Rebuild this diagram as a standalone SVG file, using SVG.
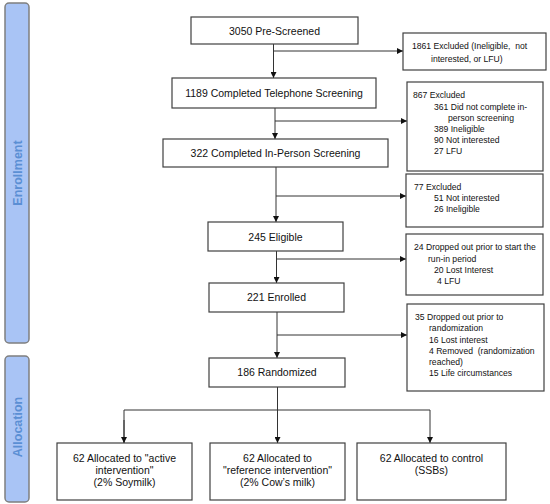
<svg xmlns="http://www.w3.org/2000/svg" width="550" height="504" viewBox="0 0 550 504">
<defs>
<marker id="ah" viewBox="0 0 10 10" refX="10" refY="5" markerWidth="6" markerHeight="6" markerUnits="userSpaceOnUse" orient="auto">
<path d="M0,0 L10,5 L0,10 Z" fill="#111"/>
</marker>
<style>
.box{fill:#fff;stroke:#404040;stroke-width:1.2}
.bar{fill:#a9c4f5;stroke:#7f7f7f;stroke-width:1.5}
.bt{font-family:"Liberation Sans",Arial,sans-serif;font-weight:bold;font-size:12.5px;fill:#5b8fd4;text-anchor:middle}
.m{font-family:"Liberation Sans",Arial,sans-serif;font-size:10.5px;fill:#111;text-anchor:middle}
.s{font-family:"Liberation Sans",Arial,sans-serif;font-size:8.6px;fill:#111;white-space:pre}
.ln{fill:none;stroke:#333;stroke-width:1}
</style>
</defs>
<rect width="550" height="504" fill="#fff"/>
<g id="enrollment-bar">
<rect class="bar" x="5" y="3" width="24" height="340" rx="4"/>
<text class="bt" transform="translate(22,173) rotate(-90)">Enrollment</text>
</g>
<g id="allocation-bar">
<rect class="bar" x="5" y="356" width="24" height="146" rx="4"/>
<text class="bt" transform="translate(22,427) rotate(-90)">Allocation</text>
</g>
<g id="connectors">
<path class="ln" d="M273.5,44 V78" marker-end="url(#ah)"/>
<path class="ln" d="M273.5,51 H403" marker-end="url(#ah)"/>
<path class="ln" d="M275,108 V139" marker-end="url(#ah)"/>
<path class="ln" d="M275,121 H407" marker-end="url(#ah)"/>
<path class="ln" d="M276,167 V222" marker-end="url(#ah)"/>
<path class="ln" d="M276,196 H406" marker-end="url(#ah)"/>
<path class="ln" d="M276.5,251 V283" marker-end="url(#ah)"/>
<path class="ln" d="M276.5,259 H406" marker-end="url(#ah)"/>
<path class="ln" d="M277,312 V358" marker-end="url(#ah)"/>
<path class="ln" d="M277,335 H407" marker-end="url(#ah)"/>
<path class="ln" d="M277.5,387 V443" marker-end="url(#ah)"/>
<path class="ln" d="M124,443 V410 H430 V443" marker-end="url(#ah)"/>
<path class="ln" d="M124,420 V443" marker-end="url(#ah)"/>
</g>
<g id="n3050">
<rect class="box" x="191" y="17" width="167" height="27"/>
<text class="m" x="274.5" y="34.5">3050 Pre-Screened</text>
</g>
<g id="n1861">
<rect class="box" x="403" y="33" width="143" height="37"/>
<text class="s" x="412" y="49">1861 Excluded (Ineligible,  not</text>
<text class="s" x="431" y="62">interested, or LFU)</text>
</g>
<g id="n1189">
<rect class="box" x="172" y="78" width="204" height="30"/>
<text class="m" x="274" y="96.5">1189 Completed Telephone Screening</text>
</g>
<g id="n867">
<rect class="box" x="407" y="82" width="136" height="89"/>
<text class="s" x="413" y="98">867 Excluded</text>
<text class="s" x="434" y="110">361 Did not complete in-</text>
<text class="s" x="448" y="121">person screening</text>
<text class="s" x="434" y="131.5">389 Ineligible</text>
<text class="s" x="434" y="143">90 Not interested</text>
<text class="s" x="434" y="154">27 LFU</text>
</g>
<g id="n322">
<rect class="box" x="163" y="139" width="225" height="28"/>
<text class="m" x="275.5" y="156.5">322 Completed In-Person Screening</text>
</g>
<g id="n77">
<rect class="box" x="406" y="174" width="137" height="53"/>
<text class="s" x="414" y="190">77 Excluded</text>
<text class="s" x="434" y="201">51 Not interested</text>
<text class="s" x="434" y="212">26 Ineligible</text>
</g>
<g id="n245">
<rect class="box" x="208" y="222" width="135" height="29"/>
<text class="m" x="275.5" y="240.5">245 Eligible</text>
</g>
<g id="n24">
<rect class="box" x="406" y="234" width="137" height="61"/>
<text class="s" x="414" y="250">24 Dropped out prior to start the</text>
<text class="s" x="428" y="262">run-in period</text>
<text class="s" x="434" y="273">20 Lost Interest</text>
<text class="s" x="437" y="284">4 LFU</text>
</g>
<g id="n221">
<rect class="box" x="209" y="283" width="135" height="29"/>
<text class="m" x="276.5" y="301">221 Enrolled</text>
</g>
<g id="n35">
<rect class="box" x="407" y="304" width="137" height="87"/>
<text class="s" x="415" y="320">35 Dropped out prior to</text>
<text class="s" x="429" y="331">randomization</text>
<text class="s" x="429" y="343">16 Lost interest</text>
<text class="s" x="429" y="354">4 Removed  (randomization</text>
<text class="s" x="429" y="365">reached)</text>
<text class="s" x="429" y="376">15 Life circumstances</text>
</g>
<g id="n186">
<rect class="box" x="209" y="358" width="136" height="29"/>
<text class="m" x="277" y="376">186 Randomized</text>
</g>
<g id="a1">
<rect class="box" x="57" y="443" width="135" height="57"/>
<text class="m" x="124.5" y="461.5">62 Allocated to "active</text>
<text class="m" x="124.5" y="473.5">intervention"</text>
<text class="m" x="124.5" y="485.5">(2% Soymilk)</text>
</g>
<g id="a2">
<rect class="box" x="210" y="443" width="135" height="57"/>
<text class="m" x="277.5" y="461.5">62 Allocated to</text>
<text class="m" x="277.5" y="473.5">"reference intervention"</text>
<text class="m" x="277.5" y="485.5">(2% Cow’s milk)</text>
</g>
<g id="a3">
<rect class="box" x="357" y="443" width="149" height="57"/>
<text class="m" x="431.5" y="461.5">62 Allocated to control</text>
<text class="m" x="431.5" y="473.5">(SSBs)</text>
</g>
</svg>
